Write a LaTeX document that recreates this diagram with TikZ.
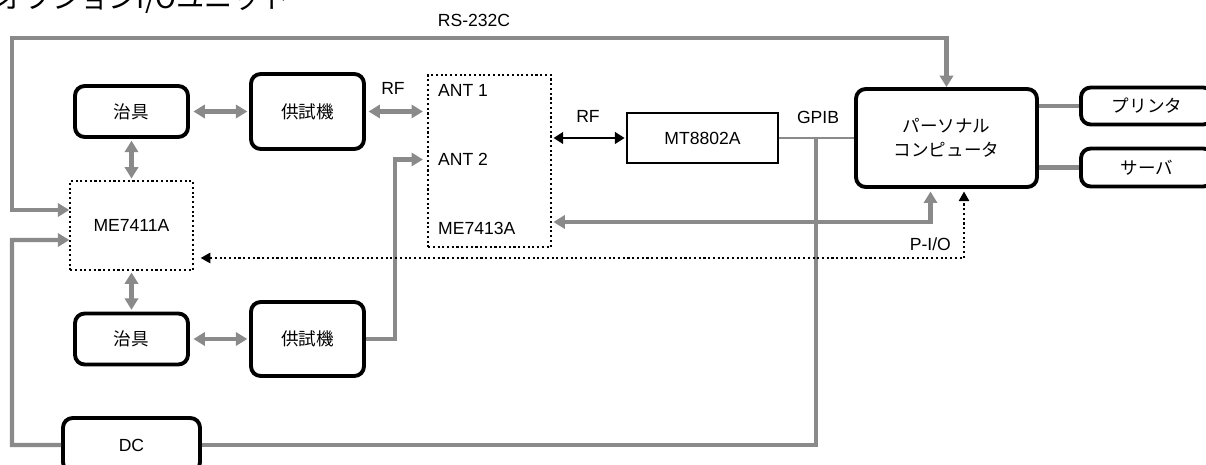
\documentclass[tikz,border=0pt]{standalone}
\usepackage{fontspec}
\setmainfont{Liberation Sans}
\newfontfamily\jp{Noto Sans CJK JP}
\usetikzlibrary{arrows.meta,calc}
\definecolor{linegray}{HTML}{8A8A8A}
\tikzset{
  unitbox/.style={draw, line width=2.2pt, rounded corners=5.5pt, align=center, font=\jp, inner sep=0pt},
  dotbox/.style={draw, line width=0.8pt, dash pattern=on 1.2pt off 1.5pt, inner sep=0pt},
  gline/.style={draw=linegray, line width=2.4pt, >={Triangle[length=6.5pt,width=7.5pt]}},
  bline/.style={draw=black, line width=1.4pt, >={Triangle[length=5.5pt,width=6.5pt]}},
  pline/.style={draw=black, line width=0.8pt, dash pattern=on 1.2pt off 1.5pt, >={Triangle[length=5.5pt,width=6pt]}}
}
\begin{document}
\begin{tikzpicture}[x=0.02cm, y=-0.02cm]
\useasboundingbox (0,0) rectangle (1206,465);

% title, cut off at the top
\node[anchor=base west, font=\jp\fontsize{16}{16}\selectfont, inner sep=0pt] (title) at (-4,9) {オプションI/Oユニット};

% units
\node[unitbox, minimum width=2.26cm, minimum height=1.02cm] (jig1) at (131.5,111.5) {治具};
\node[unitbox, minimum width=2.26cm, minimum height=1.5cm] (dut1) at (307.5,111.5) {供試機};
\node[unitbox, minimum width=2.26cm, minimum height=1.02cm] (jig2) at (131.5,339) {治具};
\node[unitbox, minimum width=2.26cm, minimum height=1.48cm] (dut2) at (307.5,339) {供試機};
\node[dotbox, minimum width=2.46cm, minimum height=1.78cm] (me11) at (131.5,225.5) {ME7411A};
\node[dotbox, minimum width=2.46cm, minimum height=3.44cm] (me13) at (489.5,161) {};
\node[anchor=west] (ant1) at (432,90) {ANT 1};
\node[anchor=west] (ant2) at (432,159.5) {ANT 2};
\node[anchor=west] (me13lbl) at (432,228.5) {ME7413A};
\node[draw, line width=0.7pt, minimum width=3.02cm, minimum height=1cm] (mt) at (702.5,138) {MT8802A};
\node[unitbox, minimum width=3.62cm, minimum height=1.96cm] (pc) at (946.5,138) {パーソナル\\[1.5pt]コンピュータ};
\node[unitbox, minimum width=2.64cm, minimum height=0.74cm] (prn) at (1147,106) {プリンタ};
\node[unitbox, minimum width=2.64cm, minimum height=0.76cm] (srv) at (1147,167.5) {サーバ};
\node[unitbox, font=\normalfont, minimum width=2.74cm, minimum height=1.08cm] (dc) at (131.5,445) {DC};

% labels
\node (rs) at (474,20) {RS-232C};
\node (rf1) at (393,88) {RF};
\node (rf2) at (588,116) {RF};
\node (gp) at (818,117) {GPIB};
\node[anchor=east] (pio) at (957,244) {P-I/O};

% connectors
\draw[gline, <->] ($(me11.west)+(0,-15.5)$) -| (12,38) -| (pc.north);
\draw[gline, ->] (dc.west) -| (12,240) -- ($(me11.west)+(0,14.5)$);
\coordinate (gpib) at ($(mt.east)!0.5!(pc.west)$);
\draw[gline] (dc.east) -| (gpib);
\draw[draw=linegray, line width=1.1pt] (mt.east) -- (pc.west);
\draw[gline, <->, shorten <=2pt, shorten >=1pt] (jig1) -- (dut1);
\draw[gline, <->, shorten <=1pt, shorten >=1pt] (jig1) -- (me11);
\draw[gline, <->, shorten <=1pt, shorten >=1pt] (me11) -- (jig2);
\draw[gline, <->, shorten <=2pt, shorten >=1pt] (jig2) -- (dut2);
\draw[gline, <->, shorten <=1.5pt, shorten >=2.5pt] (dut1.east) -- (dut1.east -| me13.west);
\draw[gline, ->, shorten >=2.5pt] (dut2.east) -| ($(me13.west |- ant2)+(-32,0)$) -- (me13.west |- ant2);
\draw[bline, <->, shorten <=1pt, shorten >=1pt] (me13.east |- mt.west) -- (mt.west);
\draw[gline, <->, shorten <=1pt, shorten >=1.5pt] (me13.east |- 0,222) -| ($(pc.south)+(-16,0)$);
\draw[pline, <->, shorten <=4pt, shorten >=1.5pt] (me11.east |- 0,258) -| ($(pc.south)+(17.5,0)$);
\draw[gline] (pc.east |- prn) -- (prn);
\draw[gline] (pc.east |- srv) -- (srv);
\end{tikzpicture}
\end{document}
